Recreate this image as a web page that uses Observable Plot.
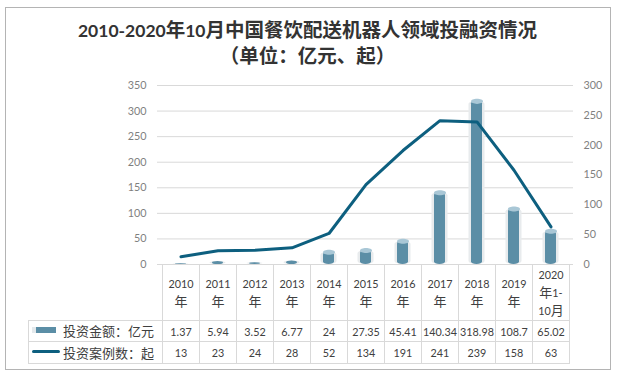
<!DOCTYPE html>
<html>
<head>
<meta charset="utf-8">
<script src="https://cdn.jsdelivr.net/npm/d3@7"></script>
<script src="https://cdn.jsdelivr.net/npm/@observablehq/plot@0.6"></script>
<style>
  body { margin: 0; background: #fff; }
  #wrap { position: relative; width: 620px; height: 378px; overflow: hidden; font-family: Lato, "Noto Sans CJK SC", sans-serif; }
  #frame { position: absolute; left: 5px; top: 7px; width: 606px; height: 363px; box-sizing: border-box; border: 1px solid #b4b4b4; }
  #title { position: absolute; left: 0; top: 16px; width: 615px; text-align: center; font-family: "Noto Sans CJK SC", sans-serif; font-weight: bold; font-size: 19.5px; color: #333; }
  #title div { height: 26px; line-height: 26px; }
  #title .lat { font-family: Lato, sans-serif; font-size: 17.5px; }
  #chart { position: absolute; left: 0; top: 0; }
  .cell { position: absolute; box-sizing: border-box; border: 1px solid #d9d9d9; display: flex; align-items: center; justify-content: center; text-align: center; white-space: nowrap; font-family: Lato, sans-serif; font-size: 10.8px; color: #404040; line-height: 17px; }
  .cell .cjk { font-family: "Noto Sans CJK SC", sans-serif; font-size: 13px; }
  .lab { justify-content: flex-start; padding-left: 34px; }
  .icon { position: absolute; }
</style>
</head>
<body>
<div id="wrap">
  <div id="frame"></div>
  <div id="title"><div><span class="lat">2010-2020</span>年<span class="lat">10</span>月中国餐饮配送机器人领域投融资情况</div><div>（单位：亿元、起）</div></div>
  <div id="chart"></div>
</div>
<script>
const years = ["2010","2011","2012","2013","2014","2015","2016","2017","2018","2019","2020"];
const headerLines = [["2010","年"],["2011","年"],["2012","年"],["2013","年"],["2014","年"],["2015","年"],["2016","年"],["2017","年"],["2018","年"],["2019","年"],["2020","年1-","10月"]];
const amounts = [1.37, 5.94, 3.52, 6.77, 24, 27.35, 45.41, 140.34, 318.98, 108.7, 65.02];
const counts = [13, 23, 24, 28, 52, 134, 191, 241, 239, 158, 63];
const amountLabel = "投资金额：亿元";
const countLabel = "投资案例数：起";
const leftTicks = [0, 50, 100, 150, 200, 250, 300, 350];
const rightTicks = [0, 50, 100, 150, 200, 250, 300];

const k = 350 / 300;
const data = years.map((y, i) => ({year: y, amount: amounts[i], count: counts[i]}));

const ellipse = {
  draw(ctx, size) {
    const r = Math.sqrt(size / Math.PI);
    const rx = r, ry = r * 0.42, c = 0.5523;
    ctx.moveTo(rx, 0);
    ctx.bezierCurveTo(rx, ry * c, rx * c, ry, 0, ry);
    ctx.bezierCurveTo(-rx * c, ry, -rx, ry * c, -rx, 0);
    ctx.bezierCurveTo(-rx, -ry * c, -rx * c, -ry, 0, -ry);
    ctx.bezierCurveTo(rx * c, -ry, rx, -ry * c, rx, 0);
    ctx.closePath();
  }
};

const chart = Plot.plot({
  width: 620, height: 280,
  marginTop: 85, marginBottom: 16, marginLeft: 157, marginRight: 47,
  x: {type: "band", domain: years, padding: 0, axis: null},
  y: {domain: [0, 350], axis: null},
  style: {fontFamily: "Lato, sans-serif", fontSize: "10.8px", color: "#7f7f7f", background: "transparent", overflow: "visible"},
  marks: [
    Plot.gridY(leftTicks, {stroke: "#d9d9d9", strokeOpacity: 1}),
    Plot.axisY(leftTicks, {anchor: "left", tickSize: 0, tickPadding: 11, fill: "#7f7f7f", label: null}),
    Plot.axisY(rightTicks.map(v => v * k), {anchor: "right", tickSize: 0, tickPadding: 10, tickFormat: v => Math.round(v / k), fill: "#7f7f7f", label: null}),
    Plot.barY(data, {x: "year", y: "amount", fill: "#e8ebed", insetLeft: 10.5, insetRight: 10.5, rx: 8, ry: 3}),
    Plot.barY(data, {x: "year", y: "amount", fill: "#5b8ea6", insetLeft: 13, insetRight: 13, rx: 6, ry: 2.5}),
    Plot.dot(data.filter(d => d.amount > 10), {x: "year", y: "amount", r: 6, symbol: ellipse, fill: "#a9c7d6", stroke: "none"}),
    Plot.lineY(data, {x: "year", y: d => d.count * k, stroke: "#0d5f7f", strokeWidth: 3})
  ]
});
document.getElementById("chart").appendChild(chart);

const wrap = document.getElementById("wrap");
const xs = chart.scale("x");
const fmt = s => String(s).replace(/([\u4e00-\u9fff\uff1a]+)/g, '<span class="cjk">$1</span>');
function cell(left, top, w, h, html, cls) {
  const d = document.createElement("div");
  d.className = "cell" + (cls ? " " + cls : "");
  Object.assign(d.style, {left: left + "px", top: top + "px", width: w + "px", height: h + "px"});
  const inner = document.createElement("div");
  inner.innerHTML = html;
  d.appendChild(inner);
  wrap.appendChild(d);
  return d;
}
const rowTop = [264, 320, 341, 363];
years.forEach((y, i) => {
  const x0 = Math.round(xs.apply(y));
  const x1 = Math.round(xs.apply(y) + xs.bandwidth);
  cell(x0, rowTop[0], x1 - x0 + 1, rowTop[1] - rowTop[0] + 1, headerLines[i].map(fmt).join("<br>"));
  cell(x0, rowTop[1], x1 - x0 + 1, rowTop[2] - rowTop[1] + 1, fmt(amounts[i]));
  cell(x0, rowTop[2], x1 - x0 + 1, rowTop[3] - rowTop[2] + 1, fmt(counts[i]));
});
const labLeft = 28, labRight = Math.round(xs.apply(years[0]));
const l1 = cell(labLeft, rowTop[1], labRight - labLeft + 1, rowTop[2] - rowTop[1] + 1, fmt(amountLabel), "lab");
const l2 = cell(labLeft, rowTop[2], labRight - labLeft + 1, rowTop[3] - rowTop[2] + 1, fmt(countLabel), "lab");
const i1 = document.createElement("div");
i1.className = "icon";
Object.assign(i1.style, {left: "3px", top: "6px", width: "24px", height: "6px", background: "linear-gradient(to right, #e4e9ec 0, #e4e9ec 4px, #5b8ea6 4px, #5b8ea6 100%)"});
l1.appendChild(i1);
const i2 = document.createElement("div");
i2.className = "icon";
Object.assign(i2.style, {left: "3px", top: "8px", width: "28px", height: "3px", background: "#0d5f7f", borderRadius: "1.5px"});
l2.appendChild(i2);
</script>
</body>
</html>
